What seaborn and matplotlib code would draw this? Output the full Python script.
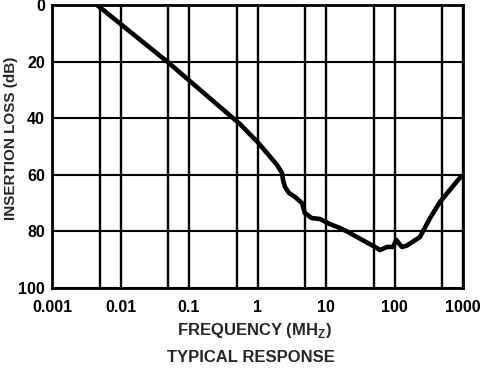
import numpy as np
import pandas as pd
import matplotlib
matplotlib.use('Agg')
import matplotlib.pyplot as plt
import seaborn as sns

# du lieu doc tu hinh
freq_mhz = [0.00454, 0.048, 0.55, 1.0, 1.68, 1.93, 2.28, 2.36, 2.52, 2.9, 3.52, 4.47, 4.9,
            6.2, 8.1, 11.4, 16, 21, 28.4, 55.6, 61, 77.8, 95, 106, 128, 152, 235, 330,
            461, 904, 1000]
loss_db = [0, 20, 42, 48.4, 54.8, 56.5, 59.4, 61.8, 64.3, 66.5, 67.8, 70, 73.5,
           75.3, 75.6, 77.4, 78.8, 80.2, 82, 85.9, 86.6, 85.5, 85.5, 83, 85.5, 85, 82, 75.3,
           69.6, 61, 60.5]
x_ticks = [0.001, 0.01, 0.1, 1, 10, 100, 1000]
x_labels = ['0.001', '0.01', '0.1', '1', '10', '100', '1000']
y_ticks = [0, 20, 40, 60, 80, 100]

df = pd.DataFrame({'freq': freq_mhz, 'loss': loss_db})

sns.set_style('white')
plt.rcParams['font.family'] = ['Liberation Sans', 'DejaVu Sans']
plt.rcParams['font.weight'] = 'bold'
plt.rcParams['mathtext.fontset'] = 'custom'
plt.rcParams['mathtext.bf'] = 'Liberation Sans:bold'
plt.rcParams['mathtext.rm'] = 'Liberation Sans:bold'

fig = plt.figure(figsize=(4.8, 3.68), dpi=100)
ax = fig.add_axes([52 / 480, 1 - 288 / 368, (463 - 52) / 480, (288 - 5) / 368])

sns.lineplot(data=df, x='freq', y='loss', ax=ax, color='black', linewidth=3.3, zorder=5)

ax.set_xscale('log')
ax.set_xlim(0.001, 1000)
ax.set_ylim(100, 0)

ax.set_xticks(x_ticks)
ax.set_xticklabels(x_labels)
minor = [5 * d for d in x_ticks[:-1]]
ax.set_xticks(minor, minor=True)
ax.set_xticklabels([], minor=True)
ax.set_yticks(y_ticks)
ax.set_yticklabels([str(v) for v in y_ticks])

ax.grid(True, which='both', axis='x', color='black', linewidth=1.7)
ax.grid(True, which='major', axis='y', color='black', linewidth=1.5)
ax.tick_params(which='both', length=0, labelsize=11.5, colors='black')
ax.tick_params(axis='x', pad=9)
ax.tick_params(axis='y', pad=5)
for lbl in ax.get_xticklabels() + ax.get_yticklabels():
    lbl.set_fontweight('bold')

for s in ax.spines.values():
    s.set_color('black')
    s.set_linewidth(2)

ax.set_xlabel('')
ax.set_ylabel('')
fig.text(254 / 480, 1 - 331 / 368, r'FREQUENCY (MH$_{\mathbf{Z}}$)', ha='center', va='center',
         fontsize=12, fontweight='bold')
fig.text(11 / 480, 1 - 138 / 368, 'INSERTION LOSS (dB)', ha='center', va='center',
         rotation=90, fontsize=11, fontweight='bold')
fig.text(251 / 480, 1 - 358 / 368, 'TYPICAL RESPONSE', ha='center', va='center',
         fontsize=12, fontweight='bold')

fig.savefig('out.png', dpi=100)
